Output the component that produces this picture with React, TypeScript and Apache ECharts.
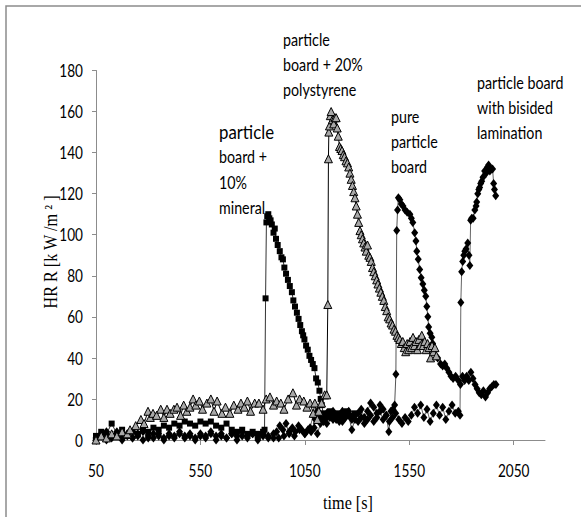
import React, { useEffect, useRef } from "react";
import * as echarts from "echarts";

const xTicks = [50, 550, 1050, 1550, 2050];
const yTicks = [0, 20, 40, 60, 80, 100, 120, 140, 160, 180];

const mineral: number[][] = [
  [50, 2], [75, 4], [100, 3], [125, 8], [150, 3], [175, 5], [200, 2], [225, 4], [250, 3], [275, 5],
  [300, 4], [325, 6], [350, 5], [375, 7], [400, 6], [425, 8], [450, 7], [475, 9], [500, 8], [525, 7],
  [550, 9], [575, 8], [600, 9], [625, 7], [650, 6], [675, 8], [700, 5], [725, 4], [750, 5], [775, 3],
  [800, 4], [825, 3], [850, 4], [857, 5], [862, 69], [866, 106], [870, 109], [875, 110], [880, 108],
  [886, 107], [892, 105], [900, 101], [906, 103], [912, 98], [920, 95], [930, 92], [938, 89], [945, 88],
  [952, 84], [960, 81], [969, 78], [978, 75], [988, 72], [995, 68], [1003, 65], [1012, 62], [1020, 59],
  [1028, 56], [1036, 53], [1042, 51], [1048, 49], [1056, 46], [1064, 44], [1072, 41], [1080, 39],
  [1088, 37], [1096, 35], [1104, 30], [1112, 28], [1120, 24], [1126, 20], [1131, 17], [1138, 13],
  [1150, 11], [1170, 14], [1190, 12], [1210, 13], [1230, 11], [1250, 14], [1270, 12], [1290, 13]
];

const polystyrene: number[][] = [
  [50, 0], [75, 2], [100, 1], [125, 3], [150, 2], [175, 4], [200, 3], [213, 5], [240, 7], [265, 10],
  [280, 8], [299, 14], [310, 11], [323, 13], [340, 12], [360, 15], [375, 11], [390, 15], [405, 13],
  [423, 15], [438, 16], [455, 12], [470, 17], [485, 14], [500, 16], [515, 20], [528, 17], [545, 19],
  [560, 15], [581, 18], [600, 20], [615, 14], [630, 19], [653, 13], [670, 16], [691, 13], [710, 17],
  [730, 15], [744, 18], [760, 16], [775, 19], [790, 14], [810, 18], [830, 18], [850, 15], [865, 20],
  [883, 21], [900, 17], [915, 19], [935, 18], [950, 15], [970, 20], [993, 23], [1010, 17], [1025, 20],
  [1045, 19], [1060, 16], [1075, 18], [1090, 13], [1098, 18], [1110, 10], [1117, 14], [1130, 18],
  [1145, 22], [1155, 22], [1160, 66], [1163, 137], [1165, 150], [1168, 153], [1172, 158], [1176, 160],
  [1182, 156], [1188, 154], [1194, 157], [1200, 157], [1205, 152], [1210, 148], [1216, 143], [1222, 142],
  [1228, 141], [1234, 139], [1240, 138], [1247, 136], [1254, 135], [1260, 133], [1266, 130], [1272, 127],
  [1278, 124], [1284, 121], [1290, 118], [1296, 114], [1302, 110], [1308, 106], [1314, 102], [1320, 100],
  [1326, 98], [1332, 96], [1338, 94], [1344, 92], [1350, 95], [1356, 90], [1362, 89], [1368, 87],
  [1374, 84], [1380, 82], [1387, 80], [1394, 78], [1400, 76], [1407, 74], [1414, 72], [1421, 70],
  [1428, 68], [1435, 65], [1442, 63], [1449, 60], [1456, 59], [1463, 57], [1470, 56], [1477, 54],
  [1484, 53], [1491, 51], [1498, 50], [1505, 49], [1512, 47], [1519, 48], [1526, 45], [1533, 43],
  [1540, 47], [1547, 44], [1554, 48], [1561, 45], [1568, 50], [1575, 46], [1582, 48], [1589, 44],
  [1596, 49], [1603, 46], [1610, 51], [1617, 46], [1624, 48], [1631, 44], [1638, 47], [1645, 45],
  [1652, 40], [1659, 46], [1666, 43], [1673, 45], [1680, 41]
];

const pure: number[][] = [
  [50, 1], [75, 3], [100, 0], [125, 2], [150, 4], [175, 1], [200, 3], [225, 1], [250, 2], [275, 4],
  [300, 1], [325, 3], [350, 2], [375, 1], [400, 3], [425, 2], [450, 4], [475, 2], [500, 3], [525, 1],
  [550, 3], [575, 2], [600, 4], [625, 2], [650, 3], [675, 1], [700, 3], [725, 2], [750, 4], [775, 2],
  [800, 3], [825, 1], [850, 3], [875, 2], [900, 1], [915, 4], [930, 7], [945, 5], [960, 8], [975, 3],
  [990, 6], [1005, 4], [1020, 7], [1035, 5], [1050, 3], [1065, 5], [1080, 4], [1095, 6], [1110, 3],
  [1125, 8], [1140, 11], [1155, 8], [1170, 13], [1185, 10], [1200, 12], [1215, 9], [1230, 14],
  [1245, 11], [1260, 12], [1275, 5], [1290, 10], [1305, 13], [1320, 15], [1335, 11], [1350, 14],
  [1365, 18], [1380, 16], [1395, 13], [1410, 17], [1425, 15], [1440, 12], [1452, 4], [1462, 14],
  [1472, 15], [1480, 17], [1486, 32], [1490, 102], [1494, 112], [1498, 118], [1505, 117], [1512, 115],
  [1520, 114], [1530, 112], [1540, 111], [1553, 110], [1560, 108], [1567, 106], [1576, 101], [1582, 97],
  [1586, 92], [1593, 88], [1600, 83], [1607, 79], [1615, 76], [1622, 73], [1629, 70], [1634, 65],
  [1639, 60], [1643, 55], [1650, 52], [1658, 50], [1662, 47], [1670, 44], [1686, 40], [1700, 37],
  [1710, 36], [1720, 37], [1730, 35], [1740, 33], [1750, 31], [1760, 30], [1772, 31], [1785, 29],
  [1795, 27], [1805, 31], [1815, 29], [1825, 31], [1835, 29], [1845, 33], [1855, 30], [1865, 27],
  [1875, 25], [1885, 23], [1895, 22], [1905, 24], [1915, 21], [1925, 23], [1935, 25], [1945, 26],
  [1955, 27], [1965, 27]
];

const lamination: number[][] = [
  [50, 0], [75, 2], [100, 4], [125, 1], [150, 3], [175, 0], [200, 2], [225, 1], [250, 3], [275, 0],
  [300, 2], [325, 1], [350, 3], [375, 0], [400, 2], [425, 1], [450, 3], [475, 1], [500, 2], [525, 0],
  [550, 2], [575, 1], [600, 3], [625, 0], [650, 2], [675, 1], [700, 3], [725, 0], [750, 2], [775, 1],
  [800, 3], [825, 0], [850, 2], [875, 1], [900, 3], [925, 1], [950, 2], [975, 4], [1000, 2], [1025, 5],
  [1050, 3], [1075, 6], [1090, 12], [1100, 10], [1110, 14], [1125, 11], [1140, 9], [1155, 13],
  [1170, 11], [1185, 14], [1200, 10], [1215, 12], [1230, 9], [1245, 12], [1260, 14], [1275, 10],
  [1290, 12], [1305, 9], [1320, 11], [1335, 8], [1350, 10], [1365, 12], [1380, 9], [1395, 11],
  [1410, 14], [1425, 10], [1440, 12], [1455, 9], [1470, 11], [1485, 13], [1500, 10], [1515, 8],
  [1530, 11], [1545, 9], [1560, 12], [1575, 16], [1590, 13], [1605, 17], [1620, 11], [1635, 15],
  [1650, 9], [1665, 13], [1680, 17], [1695, 12], [1710, 16], [1725, 10], [1740, 14], [1755, 17],
  [1770, 13], [1785, 14], [1793, 12], [1797, 67], [1801, 82], [1806, 87], [1811, 90], [1816, 92],
  [1822, 93], [1830, 96], [1836, 90], [1840, 85], [1844, 107], [1849, 108], [1856, 108], [1864, 112],
  [1870, 114], [1873, 116], [1878, 120], [1883, 122], [1887, 123], [1892, 125], [1897, 126], [1903, 128],
  [1911, 131], [1918, 130], [1925, 133], [1930, 134], [1936, 131], [1942, 132], [1949, 132], [1954, 125],
  [1958, 122], [1964, 119]
];

const annotations = [
  { lines: ["particle", "board +", "10%", "mineral"], x: 219, y: 131, big: true },
  { lines: ["particle", "board + 20%", "polystyrene"], x: 283, y: 40, big: false },
  { lines: ["pure", "particle", "board"], x: 391, y: 117, big: false },
  { lines: ["particle board", "with bisided", "lamination"], x: 477, y: 83, big: false }
];

const SANS = "Lato, 'Open Sans', sans-serif";
const SERIF = "'Liberation Serif', 'DejaVu Serif', serif";
const SQUEEZE = 0.8;

export default function App() {
  const ref = useRef<HTMLDivElement>(null);
  useEffect(() => {
    if (!ref.current) return;
    const chart = echarts.init(ref.current, null, { renderer: "svg" });
    const axisColor = "#8c8c8c";
    chart.setOption({
      animation: false,
      backgroundColor: "#fff",
      grid: { left: 96, right: 36, top: 70.5, bottom: 77, containLabel: false },
      xAxis: {
        type: "value",
        min: 50,
        max: 2200,
        axisLine: { show: true, lineStyle: { color: axisColor, width: 1 } },
        axisTick: { show: true, inside: false, length: 5, lineStyle: { color: axisColor }, customValues: xTicks },
        axisLabel: { show: false, customValues: xTicks },
        splitLine: { show: false }
      },
      yAxis: {
        type: "value",
        min: 0,
        max: 180,
        interval: 20,
        axisLine: { show: true, lineStyle: { color: axisColor, width: 1 } },
        axisTick: { show: true, inside: false, length: 4, lineStyle: { color: axisColor } },
        axisLabel: { show: false },
        splitLine: { show: false }
      },
      series: [
        {
          type: "line",
          name: "lamination",
          data: lamination,
          symbol: "diamond",
          symbolSize: [7, 9],
          showAllSymbol: true,
          itemStyle: { color: "#000" },
          lineStyle: { color: "#666", width: 1 }
        },
        {
          type: "line",
          name: "pure",
          data: pure,
          symbol: "diamond",
          symbolSize: [7, 9],
          showAllSymbol: true,
          itemStyle: { color: "#000" },
          lineStyle: { color: "#555", width: 1 }
        },
        {
          type: "line",
          name: "mineral",
          data: mineral,
          symbol: "rect",
          symbolSize: 6,
          showAllSymbol: true,
          itemStyle: { color: "#000" },
          lineStyle: { color: "#333", width: 1 }
        },
        {
          type: "line",
          name: "polystyrene",
          data: polystyrene,
          symbol: "triangle",
          symbolSize: 8,
          showAllSymbol: true,
          itemStyle: { color: "#a8a8a8", borderColor: "#000", borderWidth: 1 },
          lineStyle: { color: "#000", width: 1 }
        }
      ]
    });

    const graphics: any[] = [
      {
        type: "rect",
        shape: { x: 6, y: 6, width: 700, height: 700 },
        style: { fill: "none", stroke: "#8c8c8c", lineWidth: 1.5 },
        silent: true
      },
      {
        type: "text",
        x: 51,
        y: 252,
        rotation: Math.PI / 2,
        scaleX: 0.9,
        style: {
          text: "HR R [k W /m ² ]",
          font: `18px ${SERIF}`,
          fill: "#000",
          align: "center",
          verticalAlign: "middle"
        }
      },
      {
        type: "text",
        x: 348,
        y: 503,
        scaleX: 0.85,
        style: {
          text: "time [s]",
          font: `19px ${SERIF}`,
          fill: "#000",
          align: "center",
          verticalAlign: "middle"
        }
      }
    ];

    // tick labels positioned through the chart's own scales
    xTicks.forEach((v) => {
      const p = chart.convertToPixel({ gridIndex: 0 }, [v, 0]) as number[];
      graphics.push({
        type: "text",
        x: p[0],
        y: p[1] + 30,
        scaleX: SQUEEZE,
        style: { text: String(v), font: `17px ${SANS}`, fill: "#000", align: "center", verticalAlign: "middle" }
      });
    });
    yTicks.forEach((v) => {
      const p = chart.convertToPixel({ gridIndex: 0 }, [50, v]) as number[];
      graphics.push({
        type: "text",
        x: p[0] - 13,
        y: p[1],
        scaleX: SQUEEZE,
        style: { text: String(v), font: `17px ${SANS}`, fill: "#000", align: "right", verticalAlign: "middle" }
      });
    });

    annotations.forEach((a) => {
      a.lines.forEach((ln, i) => {
        const size = a.big && i === 0 ? 20 : 17;
        graphics.push({
          type: "text",
          x: a.x,
          y: a.y + (a.big ? (i === 0 ? 0 : i * 25.5 + 0.5) : i * 25),
          scaleX: 0.84,
          style: {
            text: ln,
            font: `${size}px ${SANS}`,
            fill: "#000",
            align: "left",
            verticalAlign: "middle"
          }
        });
      });
    });

    chart.setOption({ graphic: graphics });
    return () => chart.dispose();
  }, []);
  return (
    <div
      ref={ref}
      style={{ position: "absolute", left: 0, top: 0, width: 581, height: 517 }}
    />
  );
}
